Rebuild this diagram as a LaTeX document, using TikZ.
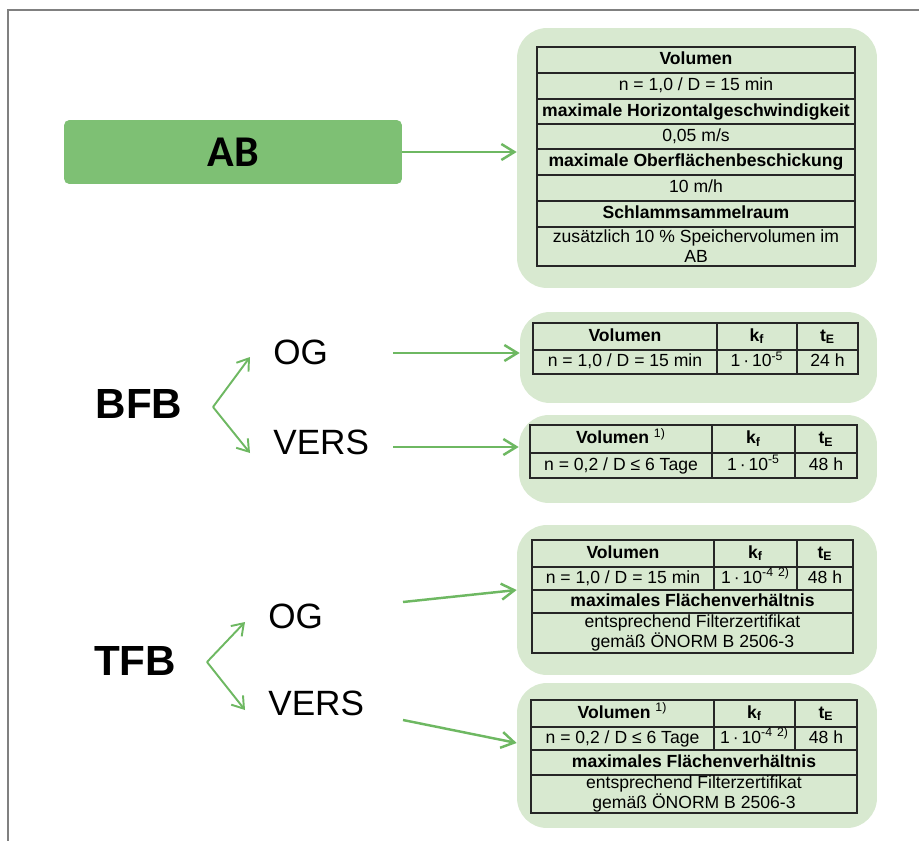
\documentclass[tikz,border=0pt]{standalone}
\usepackage{fontspec}
\setsansfont{Liberation Sans}
\newfontfamily\calfont{Carlito}
\usetikzlibrary{arrows.meta}

\definecolor{abgreen}{RGB}{126,192,116}
\definecolor{panelgreen}{RGB}{216,233,208}
\definecolor{arrgreen}{RGB}{110,184,98}
\definecolor{framegray}{RGB}{128,128,128}

\tikzset{
  abbox/.style={fill=abgreen, rounded corners=3pt, minimum width=6.76cm, minimum height=1.28cm,
    font=\calfont\bfseries\fontsize{25}{30}\selectfont},
  panel/.style={fill=panelgreen, rounded corners=0.6cm},
  tabline/.style={draw=black!85, line width=0.8pt},
  cell/.style={font=\sffamily\fontsize{10}{12}\selectfont, inner sep=0pt, text height=7.2pt, text depth=2pt},
  cellb/.style={cell, font=\sffamily\bfseries\fontsize{10}{12}\selectfont},
  twoline/.style={font=\sffamily\fontsize{10}{11.5}\selectfont, inner sep=0pt, align=center},
  biglabel/.style={font=\sffamily\bfseries\fontsize{24}{28}\selectfont, inner sep=0pt},
  branch/.style={font=\sffamily\fontsize{20}{24}\selectfont, inner sep=0pt},
  arr/.style={draw=arrgreen, line width=1.4pt, -{Straight Barb[length=2.6mm,width=3.2mm]}},
  forkarr/.style={draw=arrgreen, line width=1.1pt, -{Straight Barb[length=2.2mm,width=3mm]}}
}

\begin{document}
\begin{tikzpicture}[x=0.02cm, y=-0.02cm]
\useasboundingbox (0,0) rectangle (919,841);
\draw[framegray, line width=1.1pt] (8,841) -- (8,10) -- (919,10);

% left side
\node[abbox] (ab) at (233,152) {AB};
\node[biglabel] (bfb) at (139,404) {BFB};
\node[branch, anchor=west] (og1) at (273,352) {OG};
\node[branch, anchor=west] (vers1) at (273,442) {VERS};
\node[biglabel] (tfb) at (135,661) {TFB};
\node[branch, anchor=west] (og2) at (268,616) {OG};
\node[branch, anchor=west] (vers2) at (268,703) {VERS};

% panels
\node[panel, minimum width=7.2cm, minimum height=5.2cm] (p1) at (697,158) {};
\node[panel, minimum width=7.14cm, minimum height=1.82cm] (p2) at (698.5,357.5) {};
\node[panel, minimum width=7.16cm, minimum height=1.76cm] (p3) at (698,459) {};
\node[panel, minimum width=7.2cm, minimum height=3.0cm] (p4) at (697,600) {};
\node[panel, minimum width=7.2cm, minimum height=2.9cm] (p5) at (697,755.5) {};

% table AB
\draw[tabline] (537,47) rectangle (855,266);
\foreach \y in {73,99,124,149,175,201,227}
  \draw[tabline] (537,\y) -- (855,\y);
\node[cellb] (ab1) at (696,60) {Volumen};
\node[cell] (ab2) at (696,86) {n = 1,0 / D = 15 min};
\node[cellb] (ab3) at (696,111.5) {maximale Horizontalgeschwindigkeit};
\node[cell] (ab4) at (696,136.5) {0,05 m/s};
\node[cellb] (ab5) at (696,162) {maximale Oberflächenbeschickung};
\node[cell] (ab6) at (696,188) {10 m/h};
\node[cellb] (ab7) at (696,214) {Schlammsammelraum};
\node[twoline] (ab8) at (696,246.5) {zusätzlich 10 \% Speichervolumen im\\AB};

% table BFB OG
\draw[tabline] (533,323) rectangle (858,374);
\draw[tabline] (533,350) -- (858,350);
\draw[tabline] (717,323) -- (717,374) (797,323) -- (797,374);
\node[cellb] (bo1) at (625,336.5) {Volumen};
\node[cellb] (bo2) at (757,336.5) {k\textsubscript{f}};
\node[cellb] (bo3) at (827.5,336.5) {t\textsubscript{E}};
\node[cell] (bo4) at (625,362) {n = 1,0 / D = 15 min};
\node[cell] (bo5) at (757,362) {1\,·\,10\textsuperscript{-5}};
\node[cell] (bo6) at (827.5,362) {24 h};

% table BFB VERS
\draw[tabline] (530,425) rectangle (857,478);
\draw[tabline] (530,453) -- (857,453);
\draw[tabline] (712,425) -- (712,478) (795,425) -- (795,478);
\node[cellb] (bv1) at (621,439) {Volumen \textsuperscript{\mdseries 1)}};
\node[cellb] (bv2) at (753.5,439) {k\textsubscript{f}};
\node[cellb] (bv3) at (826,439) {t\textsubscript{E}};
\node[cell] (bv4) at (621,465.5) {n = 0,2 / D ≤ 6 Tage};
\node[cell] (bv5) at (753.5,465.5) {1\,·\,10\textsuperscript{-5}};
\node[cell] (bv6) at (826,465.5) {48 h};

% table TFB OG
\draw[tabline] (532,540) rectangle (853,653);
\foreach \y in {567,590,613}
  \draw[tabline] (532,\y) -- (853,\y);
\draw[tabline] (714,540) -- (714,590) (797,540) -- (797,590);
\node[cellb] (to1) at (623,553.5) {Volumen};
\node[cellb] (to2) at (755.5,553.5) {k\textsubscript{f}};
\node[cellb] (to3) at (825,553.5) {t\textsubscript{E}};
\node[cell] (to4) at (623,578.5) {n = 1,0 / D = 15 min};
\node[cell] (to5) at (755.5,578.5) {1\,·\,10\textsuperscript{-4}\textsuperscript{\,\,2)}};
\node[cell] (to6) at (825,578.5) {48 h};
\node[cellb] (to7) at (692.5,601.5) {maximales Flächenverhältnis};
\node[twoline] (to8) at (692.5,633) {entsprechend Filterzertifikat\\gemäß ÖNORM B 2506-3};

% table TFB VERS
\draw[tabline] (531,700) rectangle (857,813);
\foreach \y in {727,750,775}
  \draw[tabline] (531,\y) -- (857,\y);
\draw[tabline] (714,700) -- (714,750) (795,700) -- (795,750);
\node[cellb] (tv1) at (622.5,713.5) {Volumen \textsuperscript{\mdseries 1)}};
\node[cellb] (tv2) at (754.5,713.5) {k\textsubscript{f}};
\node[cellb] (tv3) at (826,713.5) {t\textsubscript{E}};
\node[cell] (tv4) at (622.5,738.5) {n = 0,2 / D ≤ 6 Tage};
\node[cell] (tv5) at (754.5,738.5) {1\,·\,10\textsuperscript{-4}\textsuperscript{\,\,2)}};
\node[cell] (tv6) at (826,738.5) {48 h};
\node[cellb] (tv7) at (694,762.5) {maximales Flächenverhältnis};
\node[twoline] (tv8) at (694,794) {entsprechend Filterzertifikat\\gemäß ÖNORM B 2506-3};

% forks
\coordinate (fork1) at (213,407);
\coordinate (fork1a) at (250,357);
\coordinate (fork1b) at (250,453);
\coordinate (fork2) at (207,662);
\coordinate (fork2a) at (245,622);
\coordinate (fork2b) at (245,710);
\draw[forkarr] (fork1) -- (fork1a);
\draw[forkarr] (fork1) -- (fork1b);
\draw[forkarr] (fork2) -- (fork2a);
\draw[forkarr] (fork2) -- (fork2b);

% arrows to panels
\coordinate (og1out) at (393,353);
\coordinate (vers1out) at (393,447);
\coordinate (og2out) at (403,602);
\coordinate (vers2out) at (403,720);
\draw[arr] (ab.east) -- (ab.east -| p1.west);
\draw[arr] (og1out) -- (og1out -| p2.west);
\draw[arr] (vers1out) -- (vers1out -| p3.west);
\draw[arr] (og2out) -- (p4.west |- 0,590);
\draw[arr] (vers2out) -- (p5.west |- 0,743);
\end{tikzpicture}
\end{document}
